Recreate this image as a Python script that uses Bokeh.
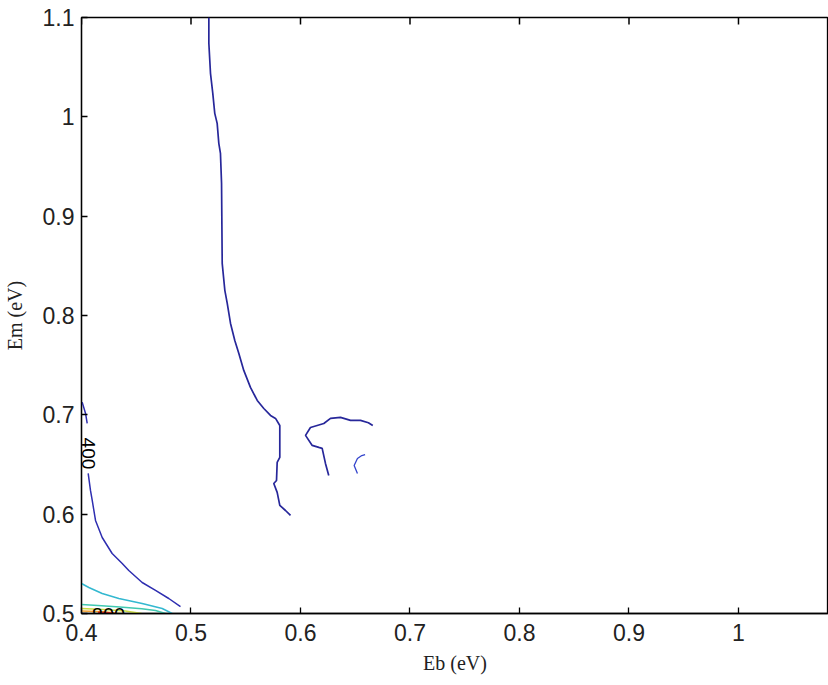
import math
from bokeh.plotting import figure
from bokeh.models import FixedTicker, LinearAxis, Range1d
from bokeh.core.properties import value
from bokeh.embed import file_html
from bokeh.resources import INLINE

# ---- data ----
x_ticks = [0.4, 0.5, 0.6, 0.7, 0.8, 0.9, 1.0]
y_ticks = [0.5, 0.6, 0.7, 0.8, 0.9, 1.0, 1.1]

# contour level 400, long branch
main_x = [0.5163, 0.5163, 0.5178, 0.5199, 0.5217, 0.5239, 0.5254, 0.5269, 0.5279, 0.5285,
          0.5309, 0.5331, 0.5361, 0.5400, 0.5437, 0.5482, 0.5543, 0.5605, 0.5665, 0.5726,
          0.5772, 0.5811, 0.5811, 0.5787, 0.5781, 0.5756, 0.5787, 0.5811, 0.5863, 0.5909]
main_y = [1.1000, 1.0740, 1.0438, 1.0236, 1.0035, 0.9934, 0.9733, 0.9632, 0.9330, 0.8525,
          0.8253, 0.8122, 0.7920, 0.7749, 0.7618, 0.7447, 0.7276, 0.7145, 0.7064, 0.6994,
          0.6964, 0.6893, 0.6571, 0.6521, 0.6339, 0.6309, 0.6219, 0.6088, 0.6037, 0.5987]

# contour level 400, island
loop_x = [0.6258, 0.6228, 0.6198, 0.6167, 0.6107, 0.6046, 0.6091, 0.6213, 0.6274, 0.6365,
          0.6457, 0.6548, 0.6620, 0.6660]
loop_y = [0.6390, 0.6511, 0.6662, 0.6672, 0.6692, 0.6793, 0.6873, 0.6913, 0.6964, 0.6974,
          0.6944, 0.6944, 0.6920, 0.6893]

hook_x = [0.6520, 0.6490, 0.6520, 0.6560, 0.6590]
hook_y = [0.6410, 0.6490, 0.6560, 0.6590, 0.6600]

# contour level 400, left branch (split by its label)
left_a_x = [0.4006, 0.4037, 0.4052]
left_a_y = [0.7128, 0.7014, 0.6913]
left_b_x = [0.4061, 0.4082, 0.4098, 0.4128, 0.4189, 0.4280, 0.4372, 0.4432, 0.4554, 0.4676,
            0.4797, 0.4904]
left_b_y = [0.6410, 0.6239, 0.6138, 0.5937, 0.5765, 0.5604, 0.5504, 0.5433, 0.5312, 0.5232,
            0.5151, 0.5070]

# contour level 800
c800_x = [0.4000, 0.4067, 0.4189, 0.4341, 0.4554, 0.4737, 0.4828]
c800_y = [0.5302, 0.5262, 0.5201, 0.5151, 0.5101, 0.5050, 0.5000]

# higher levels near the corner
c1200_x = [0.4000, 0.4150, 0.4350, 0.4550, 0.4676, 0.4767]
c1200_y = [0.5091, 0.5080, 0.5065, 0.5048, 0.5030, 0.5000]
c1600_x = [0.4000, 0.4200, 0.4400, 0.4550]
c1600_y = [0.5050, 0.5040, 0.5025, 0.5000]
c2000_x = [0.4000, 0.4200, 0.4350]
c2000_y = [0.5025, 0.5018, 0.5000]
c2400_x = [0.4150, 0.4250, 0.4300]
c2400_y = [0.5012, 0.5008, 0.5000]

label_400 = "400"
label_800 = "800"
x_title = "Eb (eV)"
y_title = "Em (eV)"

W, H = 828, 680
Y0, Y1 = 0.5, 1.1
FRAME_H = 596
p = figure(width=W, height=H, output_backend="svg", toolbar_location=None,
           x_range=Range1d(0.4, 1.0822), y_range=Range1d(Y0, Y1),
           min_border_left=81, min_border_right=0, min_border_top=17, min_border_bottom=67,
           x_axis_location=None, y_axis_location=None)
p.background_fill_color = "white"
p.border_fill_color = "white"
p.outline_line_color = "black"
p.outline_line_width = 1.3
p.grid.visible = False

tick_font = "Liberation Sans"
serif = "Liberation Serif"

xb = LinearAxis(ticker=FixedTicker(ticks=x_ticks), axis_label=x_title)
yl = LinearAxis(ticker=FixedTicker(ticks=y_ticks), axis_label=y_title)
for ax in (xb, yl):
    ax.major_tick_in = 6
    ax.major_tick_out = 0
    ax.minor_tick_line_color = None
    ax.axis_line_color = "black"
    ax.axis_line_width = 1.3
    ax.major_tick_line_color = "black"
    ax.major_tick_line_width = 1.3
    ax.major_label_text_font = tick_font
    ax.major_label_text_font_size = "23px"
    ax.major_label_text_color = "#222222"
    ax.axis_label_text_font = serif
    ax.axis_label_text_font_size = "20px"
    ax.axis_label_text_font_style = "normal"
    ax.axis_label_text_color = "#222222"
xb.major_label_standoff = 10
xb.axis_label_standoff = 8
yl.major_label_standoff = 7
yl.axis_label_standoff = 14
p.add_layout(xb, "below")
p.add_layout(yl, "left")

# inward ticks on the top edge, at the same tick positions
tick_len = 7 * (Y1 - Y0) / FRAME_H
p.segment(x0=x_ticks, y0=[Y1] * len(x_ticks), x1=x_ticks, y1=[Y1 - tick_len] * len(x_ticks),
          line_color="black", line_width=1.5)

blue = "#27279a"
p.line(main_x, main_y, line_color=blue, line_width=1.7)
p.line(loop_x, loop_y, line_color=blue, line_width=1.7)
p.line(hook_x, hook_y, line_color="#3344cc", line_width=1.3)
p.line(left_a_x, left_a_y, line_color="#2e2eb0", line_width=1.5)
p.line(left_b_x, left_b_y, line_color="#2e2eb0", line_width=1.5)
p.line(c800_x, c800_y, line_color="#33b8d0", line_width=1.5)
p.line(c1200_x, c1200_y, line_color="#40c8b0", line_width=1.5)
p.line(c1600_x, c1600_y, line_color="#c8d840", line_width=1.5)
p.line(c2000_x, c2000_y, line_color="#f0a030", line_width=1.5)
p.line(c2400_x, c2400_y, line_color="#d02020", line_width=1.5)

p.text(x=[0.4068], y=[0.6611], text=[label_400], angle=-math.pi / 2,
       text_font=value(tick_font), text_font_size="19px", text_align="center",
       text_baseline="middle", text_color="black")
p.text(x=[0.4247], y=[0.4988], text=[label_800],
       text_font=value(tick_font), text_font_size="20px", text_align="center",
       text_baseline="alphabetic", text_color="black")

open("out.html", "w").write(file_html(p, INLINE))
